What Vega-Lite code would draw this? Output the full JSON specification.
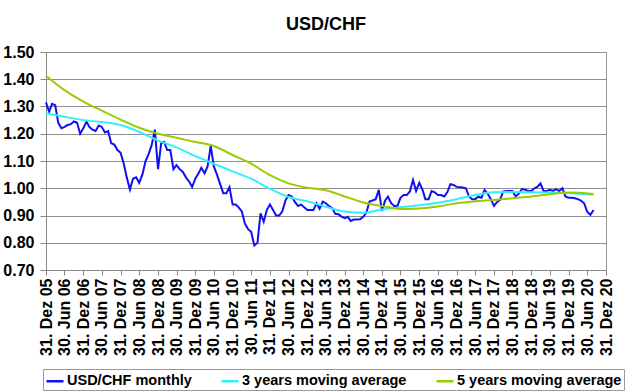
{
  "$schema": "https://vega.github.io/schema/vega-lite/v6.json",
  "width": 560,
  "height": 218,
  "autosize": {"type": "none"},
  "padding": {"left": 46, "top": 52, "right": 35, "bottom": 122},
  "background": "white",
  "title": {"text": "USD/CHF", "font": "Liberation Sans", "fontSize": 18, "fontWeight": "bold", "color": "#000", "anchor": "middle", "frame": "group", "offset": 10},
  "config": {
    "view": {"stroke": "#999", "strokeWidth": 1},
    "axis": {"labelFont": "Liberation Sans", "labelFontWeight": "bold", "labelColor": "#000", "domainColor": "#888", "tickColor": "#888", "gridColor": "#8f8f8f", "gridOpacity": 1}
  },
  "datasets": {
    "monthly": [
      {"date": "2005-12-31", "value": 1.315}, {"date": "2006-01-31", "value": 1.28}, {"date": "2006-02-28", "value": 1.31}, {"date": "2006-03-31", "value": 1.305},
      {"date": "2006-04-30", "value": 1.24}, {"date": "2006-05-31", "value": 1.22}, {"date": "2006-06-30", "value": 1.225}, {"date": "2006-07-31", "value": 1.232},
      {"date": "2006-08-31", "value": 1.235}, {"date": "2006-09-30", "value": 1.245}, {"date": "2006-10-31", "value": 1.24}, {"date": "2006-11-30", "value": 1.2},
      {"date": "2006-12-31", "value": 1.22}, {"date": "2007-01-31", "value": 1.245}, {"date": "2007-02-28", "value": 1.225}, {"date": "2007-03-31", "value": 1.215},
      {"date": "2007-04-30", "value": 1.21}, {"date": "2007-05-31", "value": 1.23}, {"date": "2007-06-30", "value": 1.225}, {"date": "2007-07-31", "value": 1.205},
      {"date": "2007-08-31", "value": 1.21}, {"date": "2007-09-30", "value": 1.165}, {"date": "2007-10-31", "value": 1.16}, {"date": "2007-11-30", "value": 1.14},
      {"date": "2007-12-31", "value": 1.13}, {"date": "2008-01-31", "value": 1.09}, {"date": "2008-02-29", "value": 1.04}, {"date": "2008-03-31", "value": 0.995},
      {"date": "2008-04-30", "value": 1.035}, {"date": "2008-05-31", "value": 1.04}, {"date": "2008-06-30", "value": 1.02}, {"date": "2008-07-31", "value": 1.05},
      {"date": "2008-08-31", "value": 1.1}, {"date": "2008-09-30", "value": 1.125}, {"date": "2008-10-31", "value": 1.16}, {"date": "2008-11-30", "value": 1.215},
      {"date": "2008-12-31", "value": 1.07}, {"date": "2009-01-31", "value": 1.165}, {"date": "2009-02-28", "value": 1.17}, {"date": "2009-03-31", "value": 1.14},
      {"date": "2009-04-30", "value": 1.14}, {"date": "2009-05-31", "value": 1.07}, {"date": "2009-06-30", "value": 1.085}, {"date": "2009-07-31", "value": 1.07},
      {"date": "2009-08-31", "value": 1.06}, {"date": "2009-09-30", "value": 1.04}, {"date": "2009-10-31", "value": 1.025}, {"date": "2009-11-30", "value": 1.005},
      {"date": "2009-12-31", "value": 1.035}, {"date": "2010-01-31", "value": 1.055}, {"date": "2010-02-28", "value": 1.075}, {"date": "2010-03-31", "value": 1.055},
      {"date": "2010-04-30", "value": 1.08}, {"date": "2010-05-31", "value": 1.155}, {"date": "2010-06-30", "value": 1.08}, {"date": "2010-07-31", "value": 1.05},
      {"date": "2010-08-31", "value": 1.015}, {"date": "2010-09-30", "value": 0.982}, {"date": "2010-10-31", "value": 0.982}, {"date": "2010-11-30", "value": 1.004},
      {"date": "2010-12-31", "value": 0.94}, {"date": "2011-01-31", "value": 0.94}, {"date": "2011-02-28", "value": 0.93}, {"date": "2011-03-31", "value": 0.915},
      {"date": "2011-04-30", "value": 0.87}, {"date": "2011-05-31", "value": 0.85}, {"date": "2011-06-30", "value": 0.84}, {"date": "2011-07-31", "value": 0.79},
      {"date": "2011-08-31", "value": 0.8}, {"date": "2011-09-30", "value": 0.908}, {"date": "2011-10-31", "value": 0.877}, {"date": "2011-11-30", "value": 0.92},
      {"date": "2011-12-31", "value": 0.94}, {"date": "2012-01-31", "value": 0.92}, {"date": "2012-02-29", "value": 0.9}, {"date": "2012-03-31", "value": 0.9},
      {"date": "2012-04-30", "value": 0.915}, {"date": "2012-05-31", "value": 0.955}, {"date": "2012-06-30", "value": 0.975}, {"date": "2012-07-31", "value": 0.97},
      {"date": "2012-08-31", "value": 0.95}, {"date": "2012-09-30", "value": 0.935}, {"date": "2012-10-31", "value": 0.94}, {"date": "2012-11-30", "value": 0.93},
      {"date": "2012-12-31", "value": 0.92}, {"date": "2013-01-31", "value": 0.92}, {"date": "2013-02-28", "value": 0.92}, {"date": "2013-03-31", "value": 0.945},
      {"date": "2013-04-30", "value": 0.925}, {"date": "2013-05-31", "value": 0.951}, {"date": "2013-06-30", "value": 0.945}, {"date": "2013-07-31", "value": 0.935},
      {"date": "2013-08-31", "value": 0.927}, {"date": "2013-09-30", "value": 0.906}, {"date": "2013-10-31", "value": 0.905}, {"date": "2013-11-30", "value": 0.896},
      {"date": "2013-12-31", "value": 0.89}, {"date": "2014-01-31", "value": 0.895}, {"date": "2014-02-28", "value": 0.88}, {"date": "2014-03-31", "value": 0.885},
      {"date": "2014-04-30", "value": 0.885}, {"date": "2014-05-31", "value": 0.886}, {"date": "2014-06-30", "value": 0.895}, {"date": "2014-07-31", "value": 0.91},
      {"date": "2014-08-31", "value": 0.951}, {"date": "2014-09-30", "value": 0.955}, {"date": "2014-10-31", "value": 0.96}, {"date": "2014-11-30", "value": 0.994},
      {"date": "2014-12-31", "value": 0.917}, {"date": "2015-01-31", "value": 0.955}, {"date": "2015-02-28", "value": 0.969}, {"date": "2015-03-31", "value": 0.945},
      {"date": "2015-04-30", "value": 0.935}, {"date": "2015-05-31", "value": 0.935}, {"date": "2015-06-30", "value": 0.965}, {"date": "2015-07-31", "value": 0.975},
      {"date": "2015-08-31", "value": 0.975}, {"date": "2015-09-30", "value": 0.988}, {"date": "2015-10-31", "value": 1.03}, {"date": "2015-11-30", "value": 0.99},
      {"date": "2015-12-31", "value": 1.02}, {"date": "2016-01-31", "value": 0.995}, {"date": "2016-02-29", "value": 0.96}, {"date": "2016-03-31", "value": 0.96},
      {"date": "2016-04-30", "value": 0.99}, {"date": "2016-05-31", "value": 0.985}, {"date": "2016-06-30", "value": 0.975}, {"date": "2016-07-31", "value": 0.975},
      {"date": "2016-08-31", "value": 0.97}, {"date": "2016-09-30", "value": 0.985}, {"date": "2016-10-31", "value": 1.015}, {"date": "2016-11-30", "value": 1.012},
      {"date": "2016-12-31", "value": 1.005}, {"date": "2017-01-31", "value": 1.004}, {"date": "2017-02-28", "value": 1.003}, {"date": "2017-03-31", "value": 1.0},
      {"date": "2017-04-30", "value": 0.97}, {"date": "2017-05-31", "value": 0.96}, {"date": "2017-06-30", "value": 0.96}, {"date": "2017-07-31", "value": 0.969},
      {"date": "2017-08-31", "value": 0.965}, {"date": "2017-09-30", "value": 0.994}, {"date": "2017-10-31", "value": 0.98}, {"date": "2017-11-30", "value": 0.96},
      {"date": "2017-12-31", "value": 0.935}, {"date": "2018-01-31", "value": 0.95}, {"date": "2018-02-28", "value": 0.957}, {"date": "2018-03-31", "value": 0.988},
      {"date": "2018-04-30", "value": 0.99}, {"date": "2018-05-31", "value": 0.99}, {"date": "2018-06-30", "value": 0.99}, {"date": "2018-07-31", "value": 0.97},
      {"date": "2018-08-31", "value": 0.98}, {"date": "2018-09-30", "value": 0.997}, {"date": "2018-10-31", "value": 0.995}, {"date": "2018-11-30", "value": 0.99},
      {"date": "2018-12-31", "value": 0.99}, {"date": "2019-01-31", "value": 1.0}, {"date": "2019-02-28", "value": 1.005}, {"date": "2019-03-31", "value": 1.018},
      {"date": "2019-04-30", "value": 0.99}, {"date": "2019-05-31", "value": 0.99}, {"date": "2019-06-30", "value": 0.994}, {"date": "2019-07-31", "value": 0.99},
      {"date": "2019-08-31", "value": 0.997}, {"date": "2019-09-30", "value": 0.99}, {"date": "2019-10-31", "value": 1.0}, {"date": "2019-11-30", "value": 0.97},
      {"date": "2019-12-31", "value": 0.965}, {"date": "2020-01-31", "value": 0.965}, {"date": "2020-02-29", "value": 0.963}, {"date": "2020-03-31", "value": 0.96},
      {"date": "2020-04-30", "value": 0.955}, {"date": "2020-05-31", "value": 0.945}, {"date": "2020-06-30", "value": 0.914}, {"date": "2020-07-31", "value": 0.902},
      {"date": "2020-08-31", "value": 0.92}
    ],
    "ma3": [
      {"date": "2005-12-31", "value": 1.275}, {"date": "2006-06-30", "value": 1.262}, {"date": "2006-12-31", "value": 1.25}, {"date": "2007-06-30", "value": 1.243},
      {"date": "2007-12-31", "value": 1.232}, {"date": "2008-06-30", "value": 1.207}, {"date": "2008-12-31", "value": 1.175}, {"date": "2009-06-30", "value": 1.15},
      {"date": "2009-12-31", "value": 1.118}, {"date": "2010-06-30", "value": 1.09}, {"date": "2010-12-31", "value": 1.062}, {"date": "2011-06-30", "value": 1.035},
      {"date": "2011-12-31", "value": 0.998}, {"date": "2012-06-30", "value": 0.968}, {"date": "2012-12-31", "value": 0.952}, {"date": "2013-06-30", "value": 0.932},
      {"date": "2013-12-31", "value": 0.915}, {"date": "2014-06-30", "value": 0.91}, {"date": "2014-12-31", "value": 0.922}, {"date": "2015-06-30", "value": 0.93},
      {"date": "2015-12-31", "value": 0.938}, {"date": "2016-06-30", "value": 0.947}, {"date": "2016-12-31", "value": 0.96}, {"date": "2017-06-30", "value": 0.975},
      {"date": "2017-12-31", "value": 0.985}, {"date": "2018-06-30", "value": 0.986}, {"date": "2018-12-31", "value": 0.985}, {"date": "2019-06-30", "value": 0.984},
      {"date": "2019-12-31", "value": 0.982}, {"date": "2020-08-31", "value": 0.977}
    ],
    "ma5": [
      {"date": "2005-12-31", "value": 1.413}, {"date": "2006-06-30", "value": 1.36}, {"date": "2006-12-31", "value": 1.318}, {"date": "2007-06-30", "value": 1.285},
      {"date": "2007-12-31", "value": 1.252}, {"date": "2008-06-30", "value": 1.222}, {"date": "2008-12-31", "value": 1.2}, {"date": "2009-06-30", "value": 1.185},
      {"date": "2009-12-31", "value": 1.17}, {"date": "2010-06-30", "value": 1.155}, {"date": "2010-12-31", "value": 1.122}, {"date": "2011-06-30", "value": 1.09},
      {"date": "2011-12-31", "value": 1.048}, {"date": "2012-06-30", "value": 1.018}, {"date": "2012-12-31", "value": 1.002}, {"date": "2013-06-30", "value": 0.993},
      {"date": "2013-12-31", "value": 0.97}, {"date": "2014-06-30", "value": 0.948}, {"date": "2014-12-31", "value": 0.935}, {"date": "2015-06-30", "value": 0.924},
      {"date": "2015-12-31", "value": 0.926}, {"date": "2016-06-30", "value": 0.933}, {"date": "2016-12-31", "value": 0.945}, {"date": "2017-06-30", "value": 0.952},
      {"date": "2017-12-31", "value": 0.957}, {"date": "2018-06-30", "value": 0.963}, {"date": "2018-12-31", "value": 0.97}, {"date": "2019-06-30", "value": 0.978},
      {"date": "2019-12-31", "value": 0.984}, {"date": "2020-08-31", "value": 0.979}
    ]
  },
  "encoding": {
    "x": {
      "field": "date", "type": "temporal",
      "scale": {"type": "utc", "domain": [{"year": 2005, "month": 12, "date": 31, "utc": true}, {"year": 2020, "month": 12, "date": 31, "utc": true}]},
      "axis": {
        "title": null, "grid": false, "labelAngle": 270, "labelFontSize": 16, "labelOverlap": false, "labelFlush": false, "labelPadding": 3, "tickSize": 5,
        "values": [
          {"year": 2005, "month": 12, "date": 31, "utc": true}, {"year": 2006, "month": 6, "date": 30, "utc": true},
          {"year": 2006, "month": 12, "date": 31, "utc": true}, {"year": 2007, "month": 6, "date": 30, "utc": true},
          {"year": 2007, "month": 12, "date": 31, "utc": true}, {"year": 2008, "month": 6, "date": 30, "utc": true},
          {"year": 2008, "month": 12, "date": 31, "utc": true}, {"year": 2009, "month": 6, "date": 30, "utc": true},
          {"year": 2009, "month": 12, "date": 31, "utc": true}, {"year": 2010, "month": 6, "date": 30, "utc": true},
          {"year": 2010, "month": 12, "date": 31, "utc": true}, {"year": 2011, "month": 6, "date": 30, "utc": true},
          {"year": 2011, "month": 12, "date": 31, "utc": true}, {"year": 2012, "month": 6, "date": 30, "utc": true},
          {"year": 2012, "month": 12, "date": 31, "utc": true}, {"year": 2013, "month": 6, "date": 30, "utc": true},
          {"year": 2013, "month": 12, "date": 31, "utc": true}, {"year": 2014, "month": 6, "date": 30, "utc": true},
          {"year": 2014, "month": 12, "date": 31, "utc": true}, {"year": 2015, "month": 6, "date": 30, "utc": true},
          {"year": 2015, "month": 12, "date": 31, "utc": true}, {"year": 2016, "month": 6, "date": 30, "utc": true},
          {"year": 2016, "month": 12, "date": 31, "utc": true}, {"year": 2017, "month": 6, "date": 30, "utc": true},
          {"year": 2017, "month": 12, "date": 31, "utc": true}, {"year": 2018, "month": 6, "date": 30, "utc": true},
          {"year": 2018, "month": 12, "date": 31, "utc": true}, {"year": 2019, "month": 6, "date": 30, "utc": true},
          {"year": 2019, "month": 12, "date": 31, "utc": true}, {"year": 2020, "month": 6, "date": 30, "utc": true},
          {"year": 2020, "month": 12, "date": 31, "utc": true}
        ],
        "labelExpr": "utcFormat(datum.value, '%d') + '. ' + (utcmonth(datum.value) == 11 ? 'Dez' : 'Jun') + ' ' + utcFormat(datum.value, '%y')"
      }
    },
    "y": {
      "field": "value", "type": "quantitative",
      "scale": {"domain": [0.7, 1.5], "nice": false, "zero": false},
      "axis": {"title": null, "grid": true, "values": [0.7, 0.8, 0.9, 1.0, 1.1, 1.2, 1.3, 1.4, 1.5], "format": ".2f", "labelFontSize": 16, "tickSize": 6, "labelPadding": 6}
    },
    "color": {
      "scale": {"domain": ["USD/CHF monthly", "3 years moving average", "5 years moving average"], "range": ["#1010F0", "#33EEFF", "#99CC00"]},
      "legend": {
        "title": null, "orient": "none", "legendX": -3, "legendY": 317, "direction": "horizontal",
        "symbolType": "stroke", "symbolSize": 289, "symbolStrokeWidth": 2.5,
        "labelFont": "Liberation Sans", "labelFontWeight": "bold", "labelFontSize": 14.5, "labelColor": "#000", "labelOffset": 2, "labelLimit": 300,
        "columnPadding": 24, "padding": 2, "strokeColor": "#999"
      }
    }
  },
  "layer": [
    {"data": {"name": "monthly"}, "mark": {"type": "line", "strokeWidth": 2}, "encoding": {"color": {"datum": "USD/CHF monthly"}}},
    {"data": {"name": "ma3"}, "mark": {"type": "line", "strokeWidth": 2, "interpolate": "monotone"}, "encoding": {"color": {"datum": "3 years moving average"}}},
    {"data": {"name": "ma5"}, "mark": {"type": "line", "strokeWidth": 2, "interpolate": "monotone"}, "encoding": {"color": {"datum": "5 years moving average"}}}
  ]
}
